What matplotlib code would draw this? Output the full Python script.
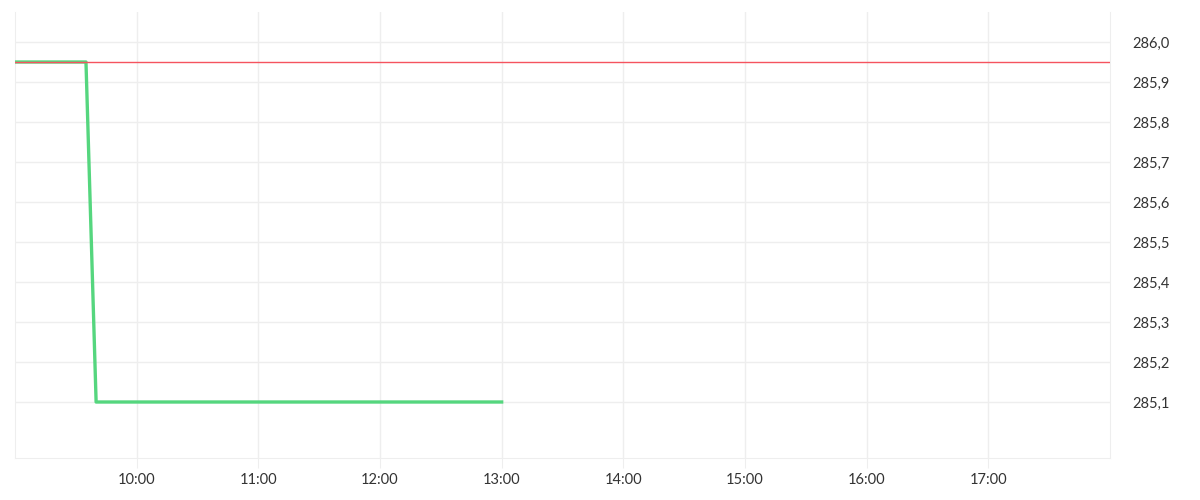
import matplotlib.pyplot as plt
import matplotlib.dates as mdates
import pandas as pd

day = "2024-01-10 "
times = ["09:00", "09:35", "09:40", "13:00"]
prices = [285.95, 285.95, 285.1, 285.1]
ref_price = 285.95
yticks = [285.1, 285.2, 285.3, 285.4, 285.5, 285.6, 285.7, 285.8, 285.9, 286.0]
xtick_hours = ["10:00", "11:00", "12:00", "13:00", "14:00", "15:00", "16:00", "17:00"]

t = pd.to_datetime([day + s for s in times])
xt = pd.to_datetime([day + s for s in xtick_hours])

plt.rcParams['font.family'] = ['Lato', 'DejaVu Sans']
fig = plt.figure(figsize=(12, 5), dpi=100)
ax = fig.add_axes([0.0125, 0.084, 0.9125, 0.892])

ax.plot(t, prices, color='#55d67e', lw=2.4, zorder=3)
ax.axhline(ref_price, color='#f5535f', lw=1, zorder=4)

ax.set_xlim(pd.Timestamp(day + "09:00"), pd.Timestamp(day + "18:00"))
ax.set_ylim(284.96, 286.075)
ax.set_xticks(xt)
ax.xaxis.set_major_formatter(mdates.DateFormatter("%H:%M"))
ax.set_yticks(yticks)
ax.set_yticklabels([f"{v:.1f}".replace(".", ",") for v in yticks])
ax.yaxis.tick_right()

ax.grid(True, color='#eeeeee', lw=1)
for s in ['top']:
    ax.spines[s].set_visible(False)
ax.spines['bottom'].set_color('#eeeeee')
ax.spines['left'].set_color('#eeeeee')
ax.spines['right'].set_color('#eeeeee')
ax.tick_params(axis='x', length=7, color='#eeeeee', labelsize=10.5, labelcolor='#333333', pad=4)
ax.tick_params(axis='y', length=0, labelsize=10.5, labelcolor='#333333', pad=16)

fig.savefig("out.png")
